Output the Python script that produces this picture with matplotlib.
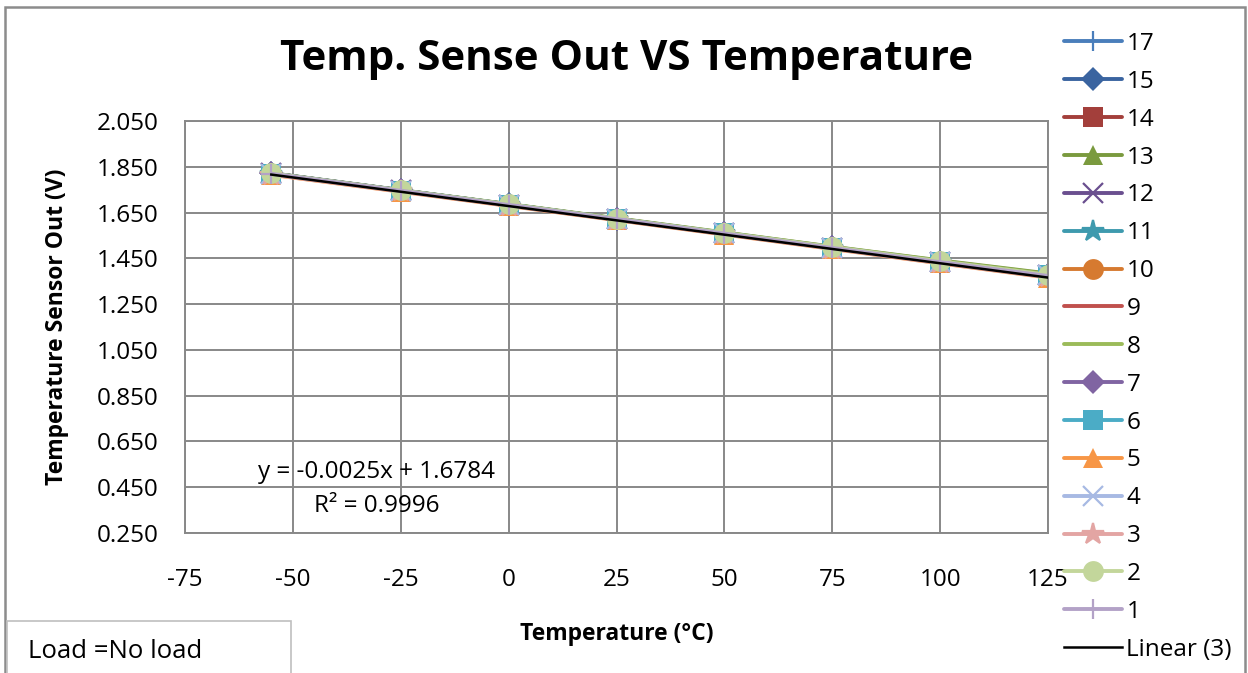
import matplotlib
matplotlib.use("Agg")
import matplotlib.pyplot as plt
from matplotlib.patches import Rectangle

plt.rcParams['font.family'] = ['Open Sans', 'DejaVu Sans']

# ---- data ----
temperatures = [-55, -25, 0, 25, 50, 75, 100, 125]
series_names = ["17", "15", "14", "13", "12", "11", "10", "9", "8",
                "7", "6", "5", "4", "3", "2", "1"]
s17 = [1.822, 1.748, 1.686, 1.623, 1.561, 1.498, 1.436, 1.377]
s15 = [1.821, 1.747, 1.686, 1.623, 1.560, 1.498, 1.436, 1.376]
s14 = [1.820, 1.746, 1.685, 1.622, 1.560, 1.497, 1.435, 1.375]
s13 = [1.822, 1.748, 1.687, 1.625, 1.563, 1.501, 1.441, 1.384]
s12 = [1.821, 1.747, 1.685, 1.622, 1.560, 1.497, 1.435, 1.376]
s11 = [1.820, 1.746, 1.685, 1.622, 1.559, 1.497, 1.434, 1.375]
s10 = [1.820, 1.746, 1.684, 1.621, 1.559, 1.496, 1.434, 1.374]
s9  = [1.819, 1.745, 1.683, 1.620, 1.558, 1.495, 1.432, 1.372]
s8  = [1.821, 1.747, 1.686, 1.624, 1.562, 1.500, 1.439, 1.381]
s7  = [1.821, 1.747, 1.685, 1.623, 1.560, 1.498, 1.436, 1.376]
s6  = [1.820, 1.746, 1.685, 1.622, 1.560, 1.497, 1.435, 1.375]
s5  = [1.815, 1.741, 1.679, 1.617, 1.554, 1.491, 1.428, 1.366]
s4  = [1.820, 1.746, 1.684, 1.622, 1.559, 1.497, 1.434, 1.375]
s3  = [1.816, 1.742, 1.680, 1.618, 1.555, 1.492, 1.429, 1.367]
s2  = [1.821, 1.747, 1.686, 1.623, 1.561, 1.499, 1.437, 1.378]
s1  = [1.819, 1.745, 1.683, 1.621, 1.558, 1.495, 1.433, 1.373]
series_values = [s17, s15, s14, s13, s12, s11, s10, s9, s8,
                 s7, s6, s5, s4, s3, s2, s1]
trend_slope = -0.0025
trend_intercept = 1.6784
trend_label = "Linear (3)"
x_ticks = [-75, -50, -25, 0, 25, 50, 75, 100, 125]
y_ticks = [0.25, 0.45, 0.65, 0.85, 1.05, 1.25, 1.45, 1.65, 1.85, 2.05]

# ---- styles ----
colors = ["#4A7EBB", "#3A64A0", "#A33F3B", "#7A9A3E", "#6A4F8F", "#3E9AAE",
          "#D67A30", "#C0504D", "#9BBB59", "#8064A2", "#4BACC6", "#F79646",
          "#A7B9E3", "#E3A5A3", "#C3D69B", "#B3A2C7"]
markers = ["+", "D", "s", "^", "x", "*", "o", None, None,
           "D", "s", "^", "x", "*", "o", "+"]

W, H = 1248, 673
fig = plt.figure(figsize=(W / 100, H / 100), dpi=100)
ax = fig.add_axes([185 / W, 1 - 533 / H, (1048 - 185) / W, (533 - 121) / H])

grid_c = "#888888"
for i, (name, vals) in enumerate(zip(series_names, series_values)):
    m = markers[i]
    kw = dict(color=colors[i], lw=2.8, solid_capstyle='round', zorder=2 + i * 0.01)
    if m is not None:
        if m in ("x", "+", "*"):
            ms = {"x": 14, "+": 15, "*": 16}[m]
            kw.update(marker=m, markersize=ms, markeredgewidth=1.6,
                      markeredgecolor=colors[i], markerfacecolor=colors[i])
        else:
            ms = {"D": 12, "s": 14, "^": 15, "o": 15}[m]
            kw.update(marker=m, markersize=ms, markeredgewidth=0,
                      markerfacecolor=colors[i])
    ax.plot(temperatures, vals, label=name, **kw)

tx = [temperatures[0], temperatures[-1]]
ty = [trend_slope * t + trend_intercept for t in tx]
ax.plot(tx, ty, color="black", lw=1.8, label=trend_label, zorder=5)

ax.set_xlim(x_ticks[0], x_ticks[-1])
ax.set_ylim(y_ticks[0], y_ticks[-1])
ax.set_xticks(x_ticks)
ax.set_yticks(y_ticks)
ax.set_xticklabels([str(v) for v in x_ticks])
ax.set_yticklabels([f"{v:.3f}" for v in y_ticks])
ax.grid(True, color=grid_c, lw=1.4)
ax.set_axisbelow(True)
for sp in ax.spines.values():
    sp.set_color(grid_c)
    sp.set_linewidth(1.4)
ax.tick_params(length=0, labelsize=17.5, colors="black")
ax.tick_params(axis='y', pad=19)
ax.tick_params(axis='x', pad=25)

ax.set_xlabel("Temperature (°C)", fontsize=16.5, fontweight="bold")
ax.xaxis.set_label_coords(0.5, -0.217, transform=ax.transAxes)
ax.set_ylabel("Temperature Sensor Out (V)", fontsize=16.5, fontweight="bold")
ax.yaxis.set_label_coords((57 - 185) / (1048 - 185), 0.5, transform=ax.transAxes)
ax.yaxis.label.set_va("center")

fig.text(627 / W, 1 - 60 / H, "Temp. Sense Out VS Temperature",
         fontsize=30.3, fontweight="bold", ha="center", va="center")

ax.text((377 - 185) / (1048 - 185), (533 - 472) / (533 - 121),
        "y = -0.0025x + 1.6784", transform=ax.transAxes,
        fontsize=17.5, ha="center", va="center")
ax.text((377 - 185) / (1048 - 185), (533 - 506) / (533 - 121),
        "R² = 0.9996", transform=ax.transAxes,
        fontsize=17.5, ha="center", va="center")

# legend
handles, labels = ax.get_legend_handles_labels()
leg = fig.legend(handles, labels, loc="upper left",
                 bbox_to_anchor=(1064 / W, 1 - 32 / H), frameon=False,
                 fontsize=17.5, handlelength=2.4, handletextpad=0.17,
                 labelspacing=0.57, borderpad=0, borderaxespad=0)

# outer chart border
fig.patches.append(Rectangle((5 / W, -0.01), (1245 - 5) / W, 1 - 7 / H + 0.01,
                             transform=fig.transFigure, fill=False,
                             edgecolor="#8C8C8C", lw=1.8))
# load textbox
fig.patches.append(Rectangle((7 / W, -0.01), (291 - 7) / W, 1 - 621 / H + 0.01,
                             transform=fig.transFigure, fill=True, facecolor="white",
                             edgecolor="#BFBFBF", lw=1.2))
fig.text(28 / W, 1 - 652 / H, "Load =No load", fontsize=18.5,
         ha="left", va="center")

fig.savefig("out.png", dpi=100)
